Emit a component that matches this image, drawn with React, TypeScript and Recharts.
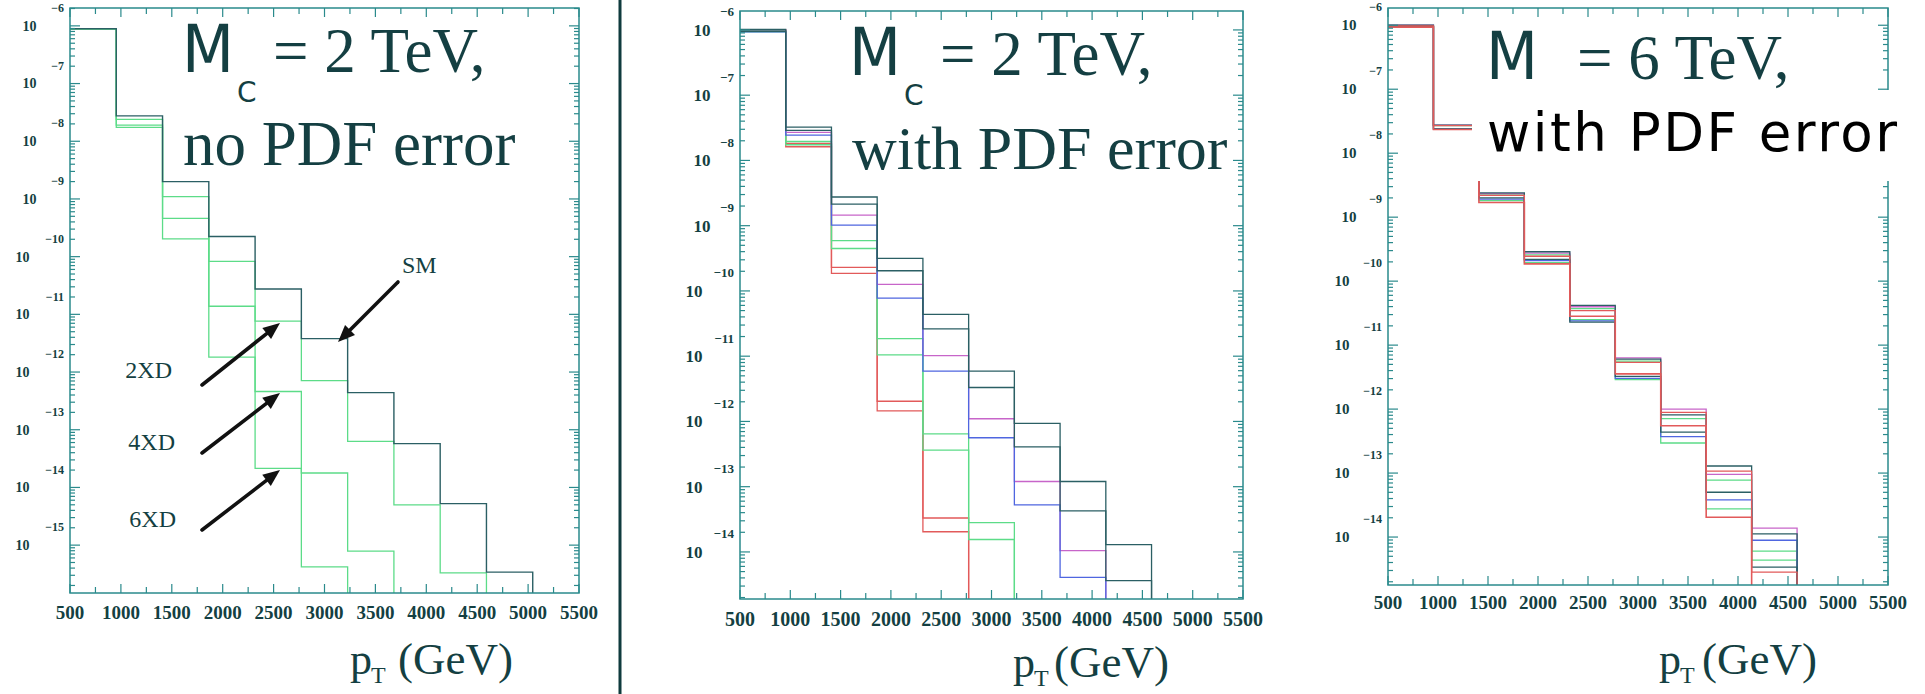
import React from 'react';
import { LineChart, Line, XAxis, YAxis } from 'recharts';

// ---- shared binning (11 bins of 454.5 GeV from 500 to 5500) ----
const binEdges = [500, 954.5, 1409.1, 1863.6, 2318.2, 2772.7, 3227.3, 3681.8, 4136.4, 4590.9, 5045.5];
const xTickValues = [500, 750, 1000, 1250, 1500, 1750, 2000, 2250, 2500, 2750, 3000, 3250, 3500, 3750, 4000, 4250, 4500, 4750, 5000, 5250, 5500];
const xTickLabels = ['500', '1000', '1500', '2000', '2500', '3000', '3500', '4000', '4500', '5000', '5500'];

// ---- M_C = 2 TeV, no PDF error ----
const p1SM = [8.9e-7, 2.75e-8, 2.0e-9, 2.24e-10, 2.75e-11, 3.8e-12, 4.4e-13, 5.75e-14, 5.25e-15, 3.4e-16];
const p1XD2 = [8.9e-7, 2.4e-8, 1.1e-9, 8.3e-11, 7.6e-12, 7.1e-13, 6.3e-14, 5.0e-15, 3.3e-16];
const p1XD4 = [8.9e-7, 1.9e-8, 4.6e-10, 1.38e-11, 4.6e-13, 1.78e-14, 7.9e-16];
const p1XD6 = [8.9e-7, 1.74e-8, 2.04e-10, 1.82e-12, 2.14e-14, 4.2e-16];

// ---- M_C = 2 TeV, with PDF error (upper / lower) ----
const p2SMHi = [1.02e-6, 3.24e-8, 2.75e-9, 3.16e-10, 4.37e-11, 5.89e-12, 9.33e-13, 1.2e-13, 1.29e-14];
const p2SMLo = [9.55e-7, 2.88e-8, 2.14e-9, 2.04e-10, 2.63e-11, 3.31e-12, 4.07e-13, 4.27e-14, 3.63e-15];
const p2XD2Hi = [1.0e-6, 2.69e-8, 1.45e-9, 1.26e-10, 1.02e-11, 1.1e-12, 1.2e-13, 1.05e-14];
const p2XD2Lo = [9.33e-7, 2.45e-8, 1.02e-9, 7.76e-11, 5.89e-12, 5.62e-13, 5.25e-14, 4.07e-15];
const p2XD4Hi = [9.77e-7, 1.95e-8, 5.89e-10, 1.86e-11, 6.46e-13, 2.82e-14];
const p2XD4Lo = [9.33e-7, 1.74e-8, 4.47e-10, 1.05e-11, 3.63e-13, 1.55e-14];
const p2XD6Hi = [1.0e-6, 1.82e-8, 2.29e-10, 2.04e-12, 3.31e-14];
const p2XD6Lo = [9.55e-7, 1.62e-8, 1.86e-10, 1.45e-12, 2.04e-14];

// ---- M_C = 6 TeV, with PDF error (upper / lower) ----
const p3SMHi = [1.0e-6, 2.75e-8, 2.4e-9, 2.88e-10, 4.17e-11, 6.03e-12, 8.13e-13, 1.29e-13, 1.12e-14];
const p3SMLo = [9.55e-7, 2.4e-8, 2.0e-9, 2.19e-10, 2.29e-11, 3.24e-12, 4.37e-13, 5.01e-14, 3.39e-15];
const p3XD2Hi = [1.0e-6, 2.75e-8, 2.34e-9, 2.75e-10, 3.98e-11, 6.31e-12, 1.0e-12, 9.55e-14, 1.38e-14];
const p3XD2Lo = [9.55e-7, 2.4e-8, 1.91e-9, 2.09e-10, 2.4e-11, 3.02e-12, 3.72e-13, 3.8e-14, 8.91e-15];
const p3XD4Hi = [9.77e-7, 2.69e-8, 2.29e-9, 2.57e-10, 3.72e-11, 5.62e-12, 7.08e-13, 7.76e-14, 6.03e-15];
const p3XD4Lo = [9.33e-7, 2.4e-8, 1.82e-9, 1.95e-10, 2.51e-11, 2.88e-12, 2.95e-13, 2.75e-14, 4.37e-15];
const p3XD6Hi = [9.77e-7, 2.69e-8, 2.19e-9, 2.45e-10, 3.47e-11, 5.37e-12, 8.91e-13, 1.07e-13, 2.82e-15];
const p3XD6Lo = [9.33e-7, 2.34e-8, 1.7e-9, 1.86e-10, 2.82e-11, 3.55e-12, 5.5e-13, 2.04e-14];

const SERIF = '"Liberation Serif", "Times New Roman", serif';
const SANS = '"DejaVu Sans", sans-serif';
const INK = '#143f42';
const FRAME = '#2a8a8c';
const SM_COL = '#2b5f64';
const GREEN = '#5cdc88';
const BLUE = '#4f66e0';
const MAGENTA = '#c765c9';
const RED = '#e25a5a';
const PAGE_H = 694;

type Series = { key: string; values: number[]; color: string; width?: number };
type PanelCfg = {
  left: number; width: number;
  plotLeft: number; plotRight: number; plotTop: number; plotBottom: number;
  yDomain: [number, number];
  baseFont: number; expFont: number; expGap: number; xFont: number; xLabelOffset: number;
};

// one row per bin edge; a histogram drops to the floor after its last filled bin
function buildRows(series: Series[], floor: number) {
  return binEdges.map((x, i) => {
    const row: Record<string, number | null> = { x };
    series.forEach((s) => {
      row[s.key] = i < s.values.length ? s.values[i] : i === s.values.length ? floor : null;
    });
    return row;
  });
}

function logTicks(domain: [number, number]) {
  const out: number[] = [];
  for (let n = -17; n <= -5; n++) {
    for (let k = 1; k <= 9; k++) {
      const v = Number(`${k}e${n}`);
      if (v >= domain[0] && v <= domain[1]) out.push(v);
    }
  }
  return out;
}

function YTick(props: any) {
  const { y, payload, cfg } = props;
  const v = payload.value as number;
  const e = Math.round(Math.log10(v));
  const major = Math.abs(Math.log10(v) - e) < 1e-6;
  const pl = cfg.plotLeft - cfg.left;
  const pr = cfg.plotRight - cfg.left;
  const len = major ? 10 : 5;
  const expStr = String(e).replace('-', '\u2212');
  const expW = expStr.length * 0.6 * cfg.expFont;
  return (
    <g>
      <line x1={pl} x2={pl + len} y1={y} y2={y} stroke={FRAME} strokeWidth={1.2} />
      <line x1={pr} x2={pr - len} y1={y} y2={y} stroke={FRAME} strokeWidth={1.2} />
      {major && (
        <g fontFamily={SERIF} fontWeight={700} fill={INK}>
          <text x={pl - 6} y={y - 18 + cfg.expFont * 0.35} fontSize={cfg.expFont} textAnchor="end">{expStr}</text>
          <text x={pl - 6 - expW - cfg.expGap} y={y + cfg.baseFont * 0.35} fontSize={cfg.baseFont} textAnchor="end">10</text>
        </g>
      )}
    </g>
  );
}

function XTick(props: any) {
  const { x, payload, cfg } = props;
  const v = payload.value as number;
  const major = v % 500 === 0;
  const pt = cfg.plotTop;
  const pb = cfg.plotBottom;
  const len = major ? 9 : 6;
  return (
    <g>
      <line x1={x} x2={x} y1={pb} y2={pb - len} stroke={FRAME} strokeWidth={1.2} />
      <line x1={x} x2={x} y1={pt} y2={pt + len} stroke={FRAME} strokeWidth={1.2} />
      {major && xTickLabels.includes(String(v)) && (
        <text x={x} y={pb + cfg.xLabelOffset} fontSize={cfg.xFont} fontFamily={SERIF} fontWeight={700} fill={INK} textAnchor="middle">{String(v)}</text>
      )}
    </g>
  );
}

function Panel({ cfg, series }: { cfg: PanelCfg; series: Series[] }) {
  const data = buildRows(series, cfg.yDomain[0]);
  const yTicks = logTicks(cfg.yDomain);
  return (
    <div style={{ position: 'absolute', left: cfg.left, top: 0 }}>
      <LineChart
        width={cfg.width}
        height={PAGE_H}
        data={data}
        margin={{ top: cfg.plotTop, right: cfg.left + cfg.width - cfg.plotRight, bottom: 0, left: 0 }}
      >
        <XAxis
          type="number" dataKey="x" domain={[500, 5500]} ticks={xTickValues} interval={0}
          height={PAGE_H - cfg.plotBottom} axisLine={false} tickLine={false} tickSize={0} tickMargin={0}
          allowDataOverflow tick={(p: any) => <XTick {...p} cfg={cfg} />}
        />
        <YAxis
          type="number" scale="log" domain={cfg.yDomain} ticks={yTicks} interval={0}
          width={cfg.plotLeft - cfg.left} axisLine={false} tickLine={false} tickSize={0} tickMargin={0}
          allowDataOverflow tick={(p: any) => <YTick {...p} cfg={cfg} />}
        />
        {series.map((s) => (
          <Line
            key={s.key} dataKey={s.key} type="stepAfter" stroke={s.color} strokeWidth={s.width ?? 1.3}
            dot={false} activeDot={false} isAnimationActive={false} connectNulls={false}
          />
        ))}
      </LineChart>
    </div>
  );
}

const panel1: PanelCfg = { left: 0, width: 600, plotLeft: 70, plotRight: 579, plotTop: 8, plotBottom: 593, yDomain: [1.48e-16, 2.04e-6], baseFont: 14, expFont: 12, expGap: 13, xFont: 19, xLabelOffset: 26 };
const panel2: PanelCfg = { left: 640, width: 640, plotLeft: 740, plotRight: 1243, plotTop: 11, plotBottom: 599, yDomain: [1.9e-15, 1.95e-6], baseFont: 17, expFont: 13, expGap: 8, xFont: 20, xLabelOffset: 27 };
const panel3: PanelCfg = { left: 1280, width: 640, plotLeft: 1388, plotRight: 1888, plotTop: 8, plotBottom: 585, yDomain: [1.78e-15, 1.86e-6], baseFont: 15, expFont: 12, expGap: 11, xFont: 19, xLabelOffset: 24 };

const series1: Series[] = [
  { key: 'xd6', values: p1XD6, color: GREEN },
  { key: 'xd4', values: p1XD4, color: GREEN },
  { key: 'xd2', values: p1XD2, color: GREEN },
  { key: 'sm', values: p1SM, color: SM_COL, width: 1.4 },
];
const series2: Series[] = [
  { key: 'xd6hi', values: p2XD6Hi, color: RED },
  { key: 'xd6lo', values: p2XD6Lo, color: RED },
  { key: 'xd4hi', values: p2XD4Hi, color: GREEN },
  { key: 'xd4lo', values: p2XD4Lo, color: GREEN },
  { key: 'xd2hi', values: p2XD2Hi, color: MAGENTA },
  { key: 'xd2lo', values: p2XD2Lo, color: BLUE },
  { key: 'smhi', values: p2SMHi, color: SM_COL },
  { key: 'smlo', values: p2SMLo, color: SM_COL },
];
const series3: Series[] = [
  { key: 'xd4hi', values: p3XD4Hi, color: GREEN },
  { key: 'xd4lo', values: p3XD4Lo, color: GREEN },
  { key: 'xd2hi', values: p3XD2Hi, color: MAGENTA },
  { key: 'xd2lo', values: p3XD2Lo, color: BLUE },
  { key: 'smhi', values: p3SMHi, color: SM_COL },
  { key: 'smlo', values: p3SMLo, color: SM_COL },
  { key: 'xd6hi', values: p3XD6Hi, color: RED },
  { key: 'xd6lo', values: p3XD6Lo, color: RED, width: 1.6 },
];

function Arrow({ x1, y1, x2, y2 }: { x1: number; y1: number; x2: number; y2: number }) {
  const a = Math.atan2(y2 - y1, x2 - x1);
  const L = 17, W = 7;
  const bx = x2 - L * Math.cos(a), by = y2 - L * Math.sin(a);
  const p1 = `${bx + W * Math.sin(a)},${by - W * Math.cos(a)}`;
  const p2 = `${bx - W * Math.sin(a)},${by + W * Math.cos(a)}`;
  return (
    <g>
      <line x1={x1} y1={y1} x2={bx} y2={by} stroke="#111" strokeWidth={3.6} strokeLinecap="round" />
      <polygon points={`${x2},${y2} ${p1} ${p2}`} fill="#111" />
    </g>
  );
}

function Title({ x, y, rest, sub = true }: { x: number; y: number; rest: string; sub?: boolean }) {
  return (
    <g fill={INK}>
      <text x={x} y={y} fontFamily={SANS} fontSize={65} textLength={52} lengthAdjust="spacingAndGlyphs">M</text>
      {sub && <text x={x + 55} y={y + 30} fontFamily={SANS} fontSize={28}>C</text>}
      <text x={x + 91} y={y} fontFamily={SERIF} fontSize={63}>{rest}</text>
    </g>
  );
}

function AxisTitle({ x, right, y }: { x: number; right: number; y: number }) {
  return (
    <g fill={INK} fontFamily={SERIF}>
      <text x={x} y={y} fontSize={44}>p</text>
      <text x={x + 21} y={y + 9} fontSize={24}>T</text>
      <text x={right} y={y} fontSize={45} textAnchor="end">(GeV)</text>
    </g>
  );
}

function Overlay() {
  const frames = [panel1, panel2, panel3];
  return (
    <svg width={1925} height={PAGE_H} style={{ position: 'absolute', left: 0, top: 0, pointerEvents: 'none' }}>
      {frames.map((c, i) => (
        <rect key={i} x={c.plotLeft} y={c.plotTop} width={c.plotRight - c.plotLeft} height={c.plotBottom - c.plotTop}
          fill="none" stroke={FRAME} strokeWidth={1.5} />
      ))}
      <line x1={620} x2={620} y1={0} y2={PAGE_H} stroke="#0f3b3d" strokeWidth={3} />

      {/* panel 1 */}
      <Title x={182} y={72} rest="= 2 TeV," />
      <text x={183} y={165} fill={INK} fontFamily={SERIF} fontSize={63}>no PDF error</text>
      <g fill={INK} fontFamily={SERIF} fontSize={24}>
        <text x={402} y={273}>SM</text>
        <text x={172} y={378} textAnchor="end">2XD</text>
        <text x={175} y={450} textAnchor="end">4XD</text>
        <text x={176} y={527} textAnchor="end">6XD</text>
      </g>
      <Arrow x1={398} y1={282} x2={338} y2={342} />
      <Arrow x1={202} y1={385} x2={280} y2={323} />
      <Arrow x1={202} y1={453} x2={280} y2={393} />
      <Arrow x1={202} y1={530} x2={280} y2={470} />
      <AxisTitle x={350} right={513} y={674} />

      {/* panel 2 */}
      <Title x={849} y={75} rest="= 2 TeV," />
      <text x={852} y={169} fill={INK} fontFamily={SERIF} fontSize={62}>with PDF error</text>
      <AxisTitle x={1013} right={1169} y={677} />

      {/* panel 3: the subtitle sits on a white patch over the plot */}
      <Title x={1486} y={79} rest="= 6 TeV," sub={false} />
      <rect x={1472} y={90} width={453} height={91} fill="#ffffff" />
      <text x={1487} y={151} fill="#000" fontFamily={SANS} fontSize={53} textLength={410} lengthAdjust="spacing">with PDF error</text>
      <AxisTitle x={1659} right={1817} y={674} />
    </svg>
  );
}

export default function App() {
  return (
    <div style={{ position: 'absolute', left: 0, top: 0, width: 1925, height: PAGE_H, background: '#ffffff', overflow: 'hidden' }}>
      <Panel cfg={panel1} series={series1} />
      <Panel cfg={panel2} series={series2} />
      <Panel cfg={panel3} series={series3} />
      <Overlay />
    </div>
  );
}
